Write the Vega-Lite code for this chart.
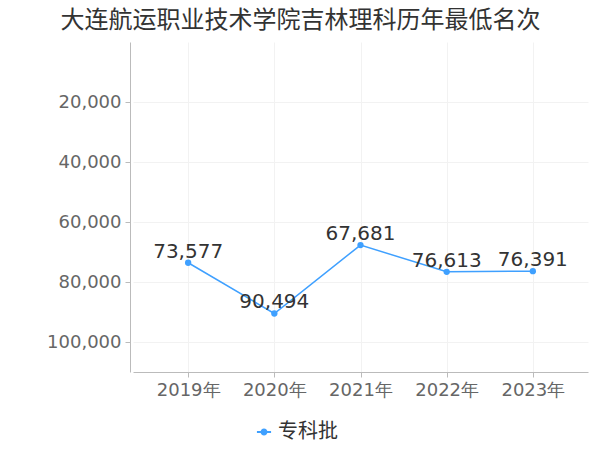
{
  "$schema": "https://vega.github.io/schema/vega-lite/v6.json",
  "autosize": {"type": "none"},
  "width": 455,
  "height": 330,
  "padding": {"left": 133, "top": 42, "right": 12, "bottom": 78},
  "background": "white",
  "title": {
    "text": "大连航运职业技术学院吉林理科历年最低名次",
    "anchor": "middle",
    "dx": -60,
    "offset": 9,
    "fontSize": 24,
    "font": "Noto Sans CJK SC",
    "fontWeight": "normal",
    "color": "#333333"
  },
  "data": {
    "values": [
      {"year": "2019年", "rank": 73577, "batch": "专科批"},
      {"year": "2020年", "rank": 90494, "batch": "专科批"},
      {"year": "2021年", "rank": 67681, "batch": "专科批"},
      {"year": "2022年", "rank": 76613, "batch": "专科批"},
      {"year": "2023年", "rank": 76391, "batch": "专科批"}
    ]
  },
  "config": {
    "view": {"stroke": null},
    "font": "DejaVu Sans"
  },
  "encoding": {
    "x": {
      "field": "year",
      "type": "ordinal",
      "scale": {"type": "point", "padding": 0.64},
      "axis": {
        "title": null,
        "labelAngle": 0,
        "labelFontSize": 18,
        "labelColor": "#666666",
        "labelPadding": 4,
        "domainColor": "#bbbbbb",
        "tickColor": "#bbbbbb",
        "tickSize": 5,
        "grid": true,
        "gridColor": "#f2f2f2"
      }
    },
    "y": {
      "field": "rank",
      "type": "quantitative",
      "scale": {"domain": [0, 110000], "reverse": true, "nice": false},
      "axis": {
        "title": null,
        "values": [20000, 40000, 60000, 80000, 100000],
        "format": ",.0f",
        "labelFontSize": 18,
        "labelColor": "#666666",
        "labelPadding": 4,
        "offset": 3,
        "domainColor": "#bbbbbb",
        "tickColor": "#bbbbbb",
        "tickSize": 5,
        "grid": true,
        "gridColor": "#f2f2f2"
      }
    }
  },
  "layer": [
    {
      "mark": {"type": "line", "strokeWidth": 1.5},
      "encoding": {
        "color": {
          "field": "batch",
          "type": "nominal",
          "scale": {"range": ["#3fa0ff"]},
          "legend": {
            "title": null,
            "orient": "none",
            "legendX": 121,
            "legendY": 380,
            "labelFontSize": 20,
            "labelColor": "#333333",
            "labelFont": "Noto Sans CJK SC",
            "symbolType": "M-1,0H1M-0.35,0A0.35,0.35 0 1,0 0.35,0A0.35,0.35 0 1,0 -0.35,0Z",
            "symbolSize": 200,
            "symbolStrokeWidth": 2,
            "symbolFillColor": "#3fa0ff",
            "symbolStrokeColor": "#3fa0ff"
          }
        }
      }
    },
    {
      "mark": {"type": "point", "filled": true, "size": 40, "color": "#3fa0ff", "opacity": 1}
    },
    {
      "mark": {"type": "text", "fontSize": 20, "color": "#333333", "baseline": "alphabetic", "dy": -5},
      "encoding": {"text": {"field": "rank", "type": "quantitative", "format": ",.0f"}}
    }
  ]
}
